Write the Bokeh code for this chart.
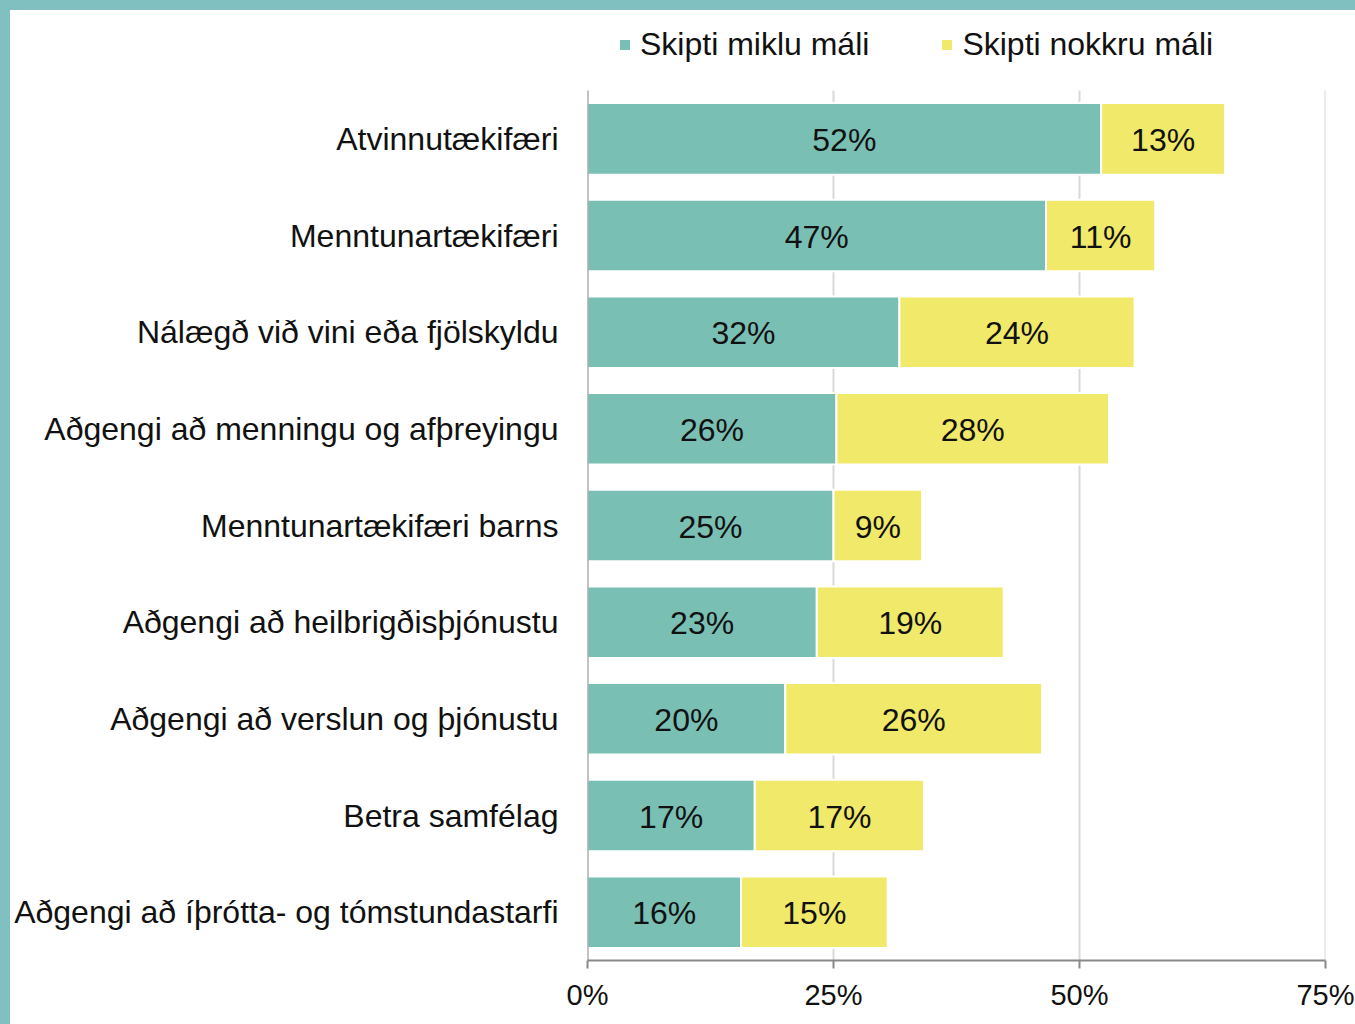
from bokeh.plotting import figure
from bokeh.models import ColumnDataSource, Legend, LegendItem, FixedTicker
from bokeh.core.properties import value
from bokeh.embed import file_html
from bokeh.resources import INLINE

categories = [
    "Atvinnutækifæri",
    "Menntunartækifæri",
    "Nálægð við vini eða fjölskyldu",
    "Aðgengi að menningu og afþreyingu",
    "Menntunartækifæri barns",
    "Aðgengi að heilbrigðisþjónustu",
    "Aðgengi að verslun og þjónustu",
    "Betra samfélag",
    "Aðgengi að íþrótta- og tómstundastarfi",
]
miklu = [52.2, 46.6, 31.7, 25.3, 25.0, 23.3, 20.1, 17.0, 15.6]
nokkru = [12.6, 11.1, 23.9, 27.7, 9.0, 19.0, 26.1, 17.2, 14.9]
miklu_labels = ["52%", "47%", "32%", "26%", "25%", "23%", "20%", "17%", "16%"]
nokkru_labels = ["13%", "11%", "24%", "28%", "9%", "19%", "26%", "17%", "15%"]
series_names = ["Skipti miklu máli", "Skipti nokkru máli"]
tick_values = [0, 25, 50, 75]
tick_labels = ["0%", "25%", "50%", "75%"]

TEAL = "#7ABFB4"
YELLOW = "#F0E96A"
FRAME = "#80C0C0"
FONT = "Liberation Sans"

n = len(categories)
ypos = [n - i - 0.5 for i in range(n)]  # first category at the top

src = ColumnDataSource(dict(
    y=ypos,
    zero=[0] * n,
    m=miklu,
    tot=[a + b for a, b in zip(miklu, nokkru)],
    m_mid=[a / 2 for a in miklu],
    n_mid=[a + b / 2 for a, b in zip(miklu, nokkru)],
    m_lab=miklu_labels,
    n_lab=nokkru_labels,
))

# extra room above the bars for the legend (in category units)
top_room = 0.828

p = figure(width=1355, height=1024, output_backend="svg", toolbar_location=None,
           y_range=(0, n + top_room), x_range=(0, 75),
           min_border_left=577, min_border_right=40, min_border_top=0,
           min_border_bottom=74)
p.styles = {"border-left": f"10px solid {FRAME}", "border-top": f"10px solid {FRAME}"}
p.outline_line_color = None
p.background_fill_color = "white"
p.border_fill_color = "white"

# grid lines (only over the bar area)
grid_x = tick_values[1:]
p.segment(x0=grid_x, y0=[0] * len(grid_x), x1=grid_x, y1=[n] * len(grid_x),
          line_color="#D9D9D9", line_width=2)

r1 = p.hbar(y="y", left="zero", right="m", height=0.74, source=src,
            fill_color=TEAL, line_color="white", line_width=2)
r2 = p.hbar(y="y", left="m", right="tot", height=0.74, source=src,
            fill_color=YELLOW, line_color="white", line_width=2)

# y axis line
p.segment(x0=[0], y0=[0], x1=[0], y1=[n], line_color="#888888", line_width=2)

for xcol, tcol in (("m_mid", "m_lab"), ("n_mid", "n_lab")):
    p.text(x=xcol, y="y", text=tcol, source=src, text_align="center",
           text_baseline="middle", text_font=value(FONT), text_font_size="32px",
           text_color="#111111", y_offset=1)

# axes
p.xaxis.ticker = FixedTicker(ticks=tick_values)
p.xaxis.major_label_overrides = dict(zip(tick_values, tick_labels))
p.xaxis.axis_line_color = "#888888"
p.xaxis.axis_line_width = 2
p.xaxis.major_tick_line_color = "#888888"
p.xaxis.major_tick_line_width = 2
p.xaxis.major_tick_out = 8
p.xaxis.major_tick_in = 0
p.xaxis.minor_tick_line_color = None
p.xaxis.major_label_text_font = FONT
p.xaxis.major_label_text_font_size = "29px"
p.xaxis.major_label_text_color = "#111111"
p.xaxis.major_label_standoff = 10

p.yaxis.ticker = FixedTicker(ticks=ypos)
p.yaxis.major_label_overrides = dict(zip(ypos, categories))
p.yaxis.axis_line_color = None
p.yaxis.major_tick_line_color = None
p.yaxis.minor_tick_line_color = None
p.yaxis.major_label_text_font = FONT
p.yaxis.major_label_text_font_size = "32px"
p.yaxis.major_label_text_color = "#111111"
p.yaxis.major_label_standoff = 23

p.xgrid.grid_line_color = None
p.ygrid.grid_line_color = None

legend = Legend(items=[LegendItem(label=series_names[0], renderers=[r1]),
                       LegendItem(label=series_names[1], renderers=[r2])],
                orientation="horizontal", location=(30, 897),
                glyph_width=15, glyph_height=15, label_standoff=8,
                spacing=70, padding=0, margin=0,
                label_text_font=FONT, label_text_font_size="32px",
                label_text_color="#111111",
                border_line_alpha=0, background_fill_alpha=0)
p.add_layout(legend, "center")

open("out.html", "w").write(file_html(p, INLINE))
